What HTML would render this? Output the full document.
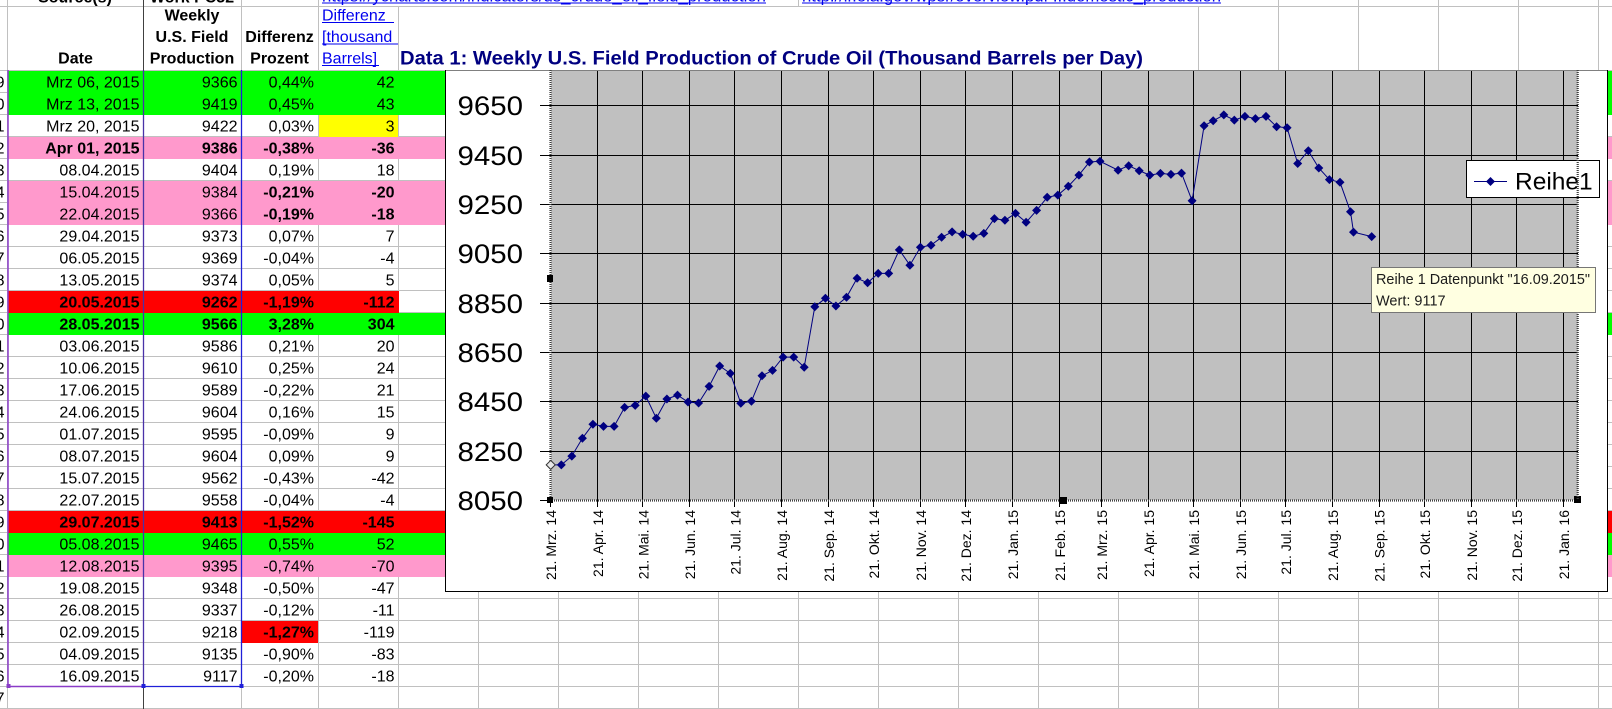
<!DOCTYPE html>
<html><head><meta charset="utf-8">
<style>
html,body{margin:0;padding:0;background:#fff;}
svg{display:block;font-family:"Liberation Sans",Arial,sans-serif;}
.b{font-weight:bold;}
</style></head><body>
<svg width="1612" height="709" viewBox="0 0 1612 709" xmlns="http://www.w3.org/2000/svg">
<defs>
<clipPath id="rh"><rect x="0" y="0" width="7" height="709"/></clipPath>
<path id="dm" d="M0,-4.5L4.5,0L0,4.5L-4.5,0Z"/>
</defs>
<rect x="0" y="0" width="1612" height="709" fill="#fff"/>

<!-- spreadsheet gridlines -->
<path fill="none" stroke="#c0c0c0" stroke-width="1" d="M0 6.5H1612M0 70.5H1612M0 92.5H1612M0 114.5H1612M0 136.5H1612M0 158.5H1612M0 180.5H1612M0 202.5H1612M0 224.5H1612M0 246.5H1612M0 268.5H1612M0 290.5H1612M0 312.5H1612M0 334.5H1612M0 356.5H1612M0 378.5H1612M0 400.5H1612M0 422.5H1612M0 444.5H1612M0 466.5H1612M0 488.5H1612M0 510.5H1612M0 532.5H1612M0 554.5H1612M0 576.5H1612M0 598.5H1612M0 620.5H1612M0 642.5H1612M0 664.5H1612M0 686.5H1612M0 708.5H1612"/>
<path fill="none" stroke="#c0c0c0" stroke-width="1" d="M7.5 70V709M241.5 70V709M318.5 70V709M398.5 70V709M478.5 70V709M558.5 70V709M638.5 70V709M718.5 70V709M798.5 70V709M878.5 70V709M958.5 70V709M1038.5 70V709M1118.5 70V709M1198.5 70V709M1278.5 70V709M1358.5 70V709M1438.5 70V709M1518.5 70V709M1598.5 70V709"/>
<path fill="none" stroke="#c0c0c0" stroke-width="1" d="M7.5 6V70M241.5 6V70M318.5 6V70M398.5 6V70M1198.5 6V70M1278.5 6V70M1358.5 6V70M1438.5 6V70M1518.5 6V70M1598.5 6V70"/>
<path fill="none" stroke="#c0c0c0" stroke-width="1" d="M7.5 0V6M241.5 0V6M318.5 0V6M798.5 0V6M1278.5 0V6M1358.5 0V6M1438.5 0V6M1518.5 0V6M1598.5 0V6"/>

<!-- fills -->
<rect x="8" y="71" width="1604" height="44" fill="#00ff00"/>
<rect x="319" y="115" width="79" height="22" fill="#ffff00"/>
<rect x="8" y="137" width="1604" height="22" fill="#ff99cc"/>
<rect x="8" y="181" width="1604" height="44" fill="#ff99cc"/>
<rect x="8" y="291" width="391" height="22" fill="#ff0000"/>
<rect x="8" y="313" width="1604" height="22" fill="#00ff00"/>
<rect x="8" y="511" width="1604" height="22" fill="#ff0000"/>
<rect x="8" y="533" width="1604" height="22" fill="#00ff00"/>
<rect x="8" y="555" width="1604" height="22" fill="#ff99cc"/>
<rect x="242" y="621" width="76" height="22" fill="#ff0000"/>

<!-- borders / range highlights -->
<path stroke="#404040" stroke-width="1" fill="none" d="M143.5 0V709"/>
<path stroke="#8a3cc8" stroke-width="1.5" fill="none" d="M8 70V686.5H143"/>
<path stroke="#4a32a8" stroke-width="1.3" fill="none" d="M143.5 70V686.5"/>
<path stroke="#2020d8" stroke-width="1.3" fill="none" d="M143 686.5H241.5V70"/>
<rect x="6.5" y="684" width="4" height="4" fill="#8a3cc8"/>
<rect x="141.5" y="684" width="4" height="4" fill="#2020d8"/>
<rect x="239.5" y="684" width="4" height="4" fill="#2020d8"/>

<!-- top row (cut off) -->
<text x="75" y="2.5" class="b" font-size="16" text-anchor="middle">Source(s)</text>
<text x="192" y="2.5" class="b" font-size="16" text-anchor="middle">Work PC32</text>
<text x="322" y="1.5" font-size="16" fill="#0000ee" textLength="444" lengthAdjust="spacingAndGlyphs">https://ycharts.com/indicators/us_crude_oil_field_production</text>
<rect x="322" y="2.5" width="444" height="1" fill="#0000ee"/>
<text x="802" y="1.5" font-size="16" fill="#0000ee" textLength="419" lengthAdjust="spacingAndGlyphs">http://ir.eia.gov/wpsr/overview.pdf   ...domestic_production</text>
<rect x="802" y="2.5" width="419" height="1" fill="#0000ee"/>

<!-- header row -->
<g font-size="16" class="b" text-anchor="middle">
<text x="75.5" y="63.3">Date</text>
<text x="192" y="20.7">Weekly</text>
<text x="192" y="42">U.S. Field</text>
<text x="192" y="63.3">Production</text>
<text x="279.5" y="42">Differenz</text>
<text x="279.5" y="63.3">Prozent</text>
</g>
<g font-size="16" fill="#0000ee">
<text x="322" y="20.7">Differenz </text>
<text x="322" y="42">[thousand </text>
<text x="322" y="63.3">Barrels]</text>
</g>
<rect x="322" y="22" width="72" height="1" fill="#0000ee"/>
<rect x="322" y="43.5" width="76" height="1" fill="#0000ee"/>
<rect x="322" y="65" width="57" height="1" fill="#0000ee"/>
<text x="400" y="64.3" class="b" font-size="19" fill="#000080" textLength="743" lengthAdjust="spacingAndGlyphs">Data 1: Weekly U.S. Field Production of Crude Oil  (Thousand Barrels per Day)</text>

<!-- row header digits -->
<g clip-path="url(#rh)" font-size="16" text-anchor="end" fill="#000">
<text x="4.5" y="87.3">9</text><text x="4.5" y="109.3">0</text><text x="4.5" y="131.3">1</text><text x="4.5" y="153.3">2</text><text x="4.5" y="175.3">3</text><text x="4.5" y="197.3">4</text><text x="4.5" y="219.3">5</text><text x="4.5" y="241.3">6</text><text x="4.5" y="263.3">7</text><text x="4.5" y="285.3">8</text><text x="4.5" y="307.3">9</text><text x="4.5" y="329.3">0</text><text x="4.5" y="351.3">1</text><text x="4.5" y="373.3">2</text><text x="4.5" y="395.3">3</text><text x="4.5" y="417.3">4</text><text x="4.5" y="439.3">5</text><text x="4.5" y="461.3">6</text><text x="4.5" y="483.3">7</text><text x="4.5" y="505.3">8</text><text x="4.5" y="527.3">9</text><text x="4.5" y="549.3">0</text><text x="4.5" y="571.3">1</text><text x="4.5" y="593.3">2</text><text x="4.5" y="615.3">3</text><text x="4.5" y="637.3">4</text><text x="4.5" y="659.3">5</text><text x="4.5" y="681.3">6</text><text x="4.5" y="703.3">7</text>
</g>

<!-- dates -->
<g font-size="16" text-anchor="end">
<text x="139.5" y="87.3">Mrz 06, 2015</text>
<text x="139.5" y="109.3">Mrz 13, 2015</text>
<text x="139.5" y="131.3">Mrz 20, 2015</text>
<text x="139.5" y="153.3" class="b">Apr 01, 2015</text>
<text x="139.5" y="175.3">08.04.2015</text>
<text x="139.5" y="197.3">15.04.2015</text>
<text x="139.5" y="219.3">22.04.2015</text>
<text x="139.5" y="241.3">29.04.2015</text>
<text x="139.5" y="263.3">06.05.2015</text>
<text x="139.5" y="285.3">13.05.2015</text>
<text x="139.5" y="307.3" class="b">20.05.2015</text>
<text x="139.5" y="329.3" class="b">28.05.2015</text>
<text x="139.5" y="351.3">03.06.2015</text>
<text x="139.5" y="373.3">10.06.2015</text>
<text x="139.5" y="395.3">17.06.2015</text>
<text x="139.5" y="417.3">24.06.2015</text>
<text x="139.5" y="439.3">01.07.2015</text>
<text x="139.5" y="461.3">08.07.2015</text>
<text x="139.5" y="483.3">15.07.2015</text>
<text x="139.5" y="505.3">22.07.2015</text>
<text x="139.5" y="527.3" class="b">29.07.2015</text>
<text x="139.5" y="549.3">05.08.2015</text>
<text x="139.5" y="571.3">12.08.2015</text>
<text x="139.5" y="593.3">19.08.2015</text>
<text x="139.5" y="615.3">26.08.2015</text>
<text x="139.5" y="637.3">02.09.2015</text>
<text x="139.5" y="659.3">04.09.2015</text>
<text x="139.5" y="681.3">16.09.2015</text>
</g>
<!-- production -->
<g font-size="16" text-anchor="end">
<text x="237.5" y="87.3">9366</text>
<text x="237.5" y="109.3">9419</text>
<text x="237.5" y="131.3">9422</text>
<text x="237.5" y="153.3" class="b">9386</text>
<text x="237.5" y="175.3">9404</text>
<text x="237.5" y="197.3">9384</text>
<text x="237.5" y="219.3">9366</text>
<text x="237.5" y="241.3">9373</text>
<text x="237.5" y="263.3">9369</text>
<text x="237.5" y="285.3">9374</text>
<text x="237.5" y="307.3" class="b">9262</text>
<text x="237.5" y="329.3" class="b">9566</text>
<text x="237.5" y="351.3">9586</text>
<text x="237.5" y="373.3">9610</text>
<text x="237.5" y="395.3">9589</text>
<text x="237.5" y="417.3">9604</text>
<text x="237.5" y="439.3">9595</text>
<text x="237.5" y="461.3">9604</text>
<text x="237.5" y="483.3">9562</text>
<text x="237.5" y="505.3">9558</text>
<text x="237.5" y="527.3" class="b">9413</text>
<text x="237.5" y="549.3">9465</text>
<text x="237.5" y="571.3">9395</text>
<text x="237.5" y="593.3">9348</text>
<text x="237.5" y="615.3">9337</text>
<text x="237.5" y="637.3">9218</text>
<text x="237.5" y="659.3">9135</text>
<text x="237.5" y="681.3">9117</text>
</g>
<!-- percent -->
<g font-size="16" text-anchor="end">
<text x="314" y="87.3">0,44%</text>
<text x="314" y="109.3">0,45%</text>
<text x="314" y="131.3">0,03%</text>
<text x="314" y="153.3" class="b">-0,38%</text>
<text x="314" y="175.3">0,19%</text>
<text x="314" y="197.3" class="b">-0,21%</text>
<text x="314" y="219.3" class="b">-0,19%</text>
<text x="314" y="241.3">0,07%</text>
<text x="314" y="263.3">-0,04%</text>
<text x="314" y="285.3">0,05%</text>
<text x="314" y="307.3" class="b">-1,19%</text>
<text x="314" y="329.3" class="b">3,28%</text>
<text x="314" y="351.3">0,21%</text>
<text x="314" y="373.3">0,25%</text>
<text x="314" y="395.3">-0,22%</text>
<text x="314" y="417.3">0,16%</text>
<text x="314" y="439.3">-0,09%</text>
<text x="314" y="461.3">0,09%</text>
<text x="314" y="483.3">-0,43%</text>
<text x="314" y="505.3">-0,04%</text>
<text x="314" y="527.3" class="b">-1,52%</text>
<text x="314" y="549.3">0,55%</text>
<text x="314" y="571.3">-0,74%</text>
<text x="314" y="593.3">-0,50%</text>
<text x="314" y="615.3">-0,12%</text>
<text x="314" y="637.3" class="b">-1,27%</text>
<text x="314" y="659.3">-0,90%</text>
<text x="314" y="681.3">-0,20%</text>
</g>
<!-- diff -->
<g font-size="16" text-anchor="end">
<text x="394.5" y="87.3">42</text>
<text x="394.5" y="109.3">43</text>
<text x="394.5" y="131.3">3</text>
<text x="394.5" y="153.3" class="b">-36</text>
<text x="394.5" y="175.3">18</text>
<text x="394.5" y="197.3" class="b">-20</text>
<text x="394.5" y="219.3" class="b">-18</text>
<text x="394.5" y="241.3">7</text>
<text x="394.5" y="263.3">-4</text>
<text x="394.5" y="285.3">5</text>
<text x="394.5" y="307.3" class="b">-112</text>
<text x="394.5" y="329.3" class="b">304</text>
<text x="394.5" y="351.3">20</text>
<text x="394.5" y="373.3">24</text>
<text x="394.5" y="395.3">21</text>
<text x="394.5" y="417.3">15</text>
<text x="394.5" y="439.3">9</text>
<text x="394.5" y="461.3">9</text>
<text x="394.5" y="483.3">-42</text>
<text x="394.5" y="505.3">-4</text>
<text x="394.5" y="527.3" class="b">-145</text>
<text x="394.5" y="549.3">52</text>
<text x="394.5" y="571.3">-70</text>
<text x="394.5" y="593.3">-47</text>
<text x="394.5" y="615.3">-11</text>
<text x="394.5" y="637.3">-119</text>
<text x="394.5" y="659.3">-83</text>
<text x="394.5" y="681.3">-18</text>
</g>

<!-- ============ CHART ============ -->
<rect x="445" y="70" width="1162" height="521" fill="#fff"/>
<path stroke="#808080" stroke-width="1" fill="none" d="M445 70.5H1607.5"/>
<path stroke="#000" stroke-width="1" fill="none" d="M445.5 70V591.5H1607.5V70"/>

<rect x="551" y="71" width="1026.7" height="429" fill="#c0c0c0"/>
<!-- horizontal gridlines -->
<path stroke="#000" stroke-width="1" fill="none" d="M551 105.5H1578M551 155.5H1578M551 204.5H1578M551 253.5H1578M551 303.5H1578M551 352.5H1578M551 401.5H1578M551 451.5H1578"/>
<!-- vertical gridlines -->
<path stroke="#000" stroke-width="1" fill="none" d="M597.5 71V500M642.5 71V500M689.5 71V500M734.5 71V500M781.5 71V500M828.5 71V500M873.5 71V500M920.5 71V500M965.5 71V500M1012.5 71V500M1059.5 71V500M1101.5 71V500M1148.5 71V500M1193.5 71V500M1240.5 71V500M1285.5 71V500M1332.5 71V500M1379.5 71V500M1424.5 71V500M1471.5 71V500M1516.5 71V500M1563.5 71V500"/>
<!-- y ticks -->
<path stroke="#000" stroke-width="1" fill="none" d="M540 105.5H551M540 155.5H551M540 204.5H551M540 253.5H551M540 303.5H551M540 352.5H551M540 401.5H551M540 451.5H551M540 500.5H551"/>
<!-- x ticks -->
<path stroke="#000" stroke-width="1" fill="none" d="M550.5 500V507M597.5 500V507M642.5 500V507M689.5 500V507M734.5 500V507M781.5 500V507M828.5 500V507M873.5 500V507M920.5 500V507M965.5 500V507M1012.5 500V507M1059.5 500V507M1101.5 500V507M1148.5 500V507M1193.5 500V507M1240.5 500V507M1285.5 500V507M1332.5 500V507M1379.5 500V507M1424.5 500V507M1471.5 500V507M1516.5 500V507M1563.5 500V507"/>
<!-- dotted axes (selected plot area) -->
<path stroke="#404040" stroke-width="2.2" stroke-dasharray="1 1" fill="none" d="M550.5 70V500.5H1577.7"/>

<!-- y labels -->
<g font-size="27" text-anchor="end" fill="#000">
<text x="523" y="115" textLength="65.5" lengthAdjust="spacingAndGlyphs">9650</text>
<text x="523" y="165" textLength="65.5" lengthAdjust="spacingAndGlyphs">9450</text>
<text x="523" y="214" textLength="65.5" lengthAdjust="spacingAndGlyphs">9250</text>
<text x="523" y="263" textLength="65.5" lengthAdjust="spacingAndGlyphs">9050</text>
<text x="523" y="313" textLength="65.5" lengthAdjust="spacingAndGlyphs">8850</text>
<text x="523" y="362" textLength="65.5" lengthAdjust="spacingAndGlyphs">8650</text>
<text x="523" y="411" textLength="65.5" lengthAdjust="spacingAndGlyphs">8450</text>
<text x="523" y="461" textLength="65.5" lengthAdjust="spacingAndGlyphs">8250</text>
<text x="523" y="510" textLength="65.5" lengthAdjust="spacingAndGlyphs">8050</text>
</g>

<!-- x labels -->
<g font-size="14" text-anchor="end" fill="#000">
<text transform="translate(556.2,510) rotate(-90)">21. Mrz. 14</text>
<text transform="translate(603,510) rotate(-90)">21. Apr. 14</text>
<text transform="translate(648.3,510) rotate(-90)">21. Mai. 14</text>
<text transform="translate(695,510) rotate(-90)">21. Jun. 14</text>
<text transform="translate(740.3,510) rotate(-90)">21. Jul. 14</text>
<text transform="translate(787.1,510) rotate(-90)">21. Aug. 14</text>
<text transform="translate(833.9,510) rotate(-90)">21. Sep. 14</text>
<text transform="translate(879.1,510) rotate(-90)">21. Okt. 14</text>
<text transform="translate(925.9,510) rotate(-90)">21. Nov. 14</text>
<text transform="translate(971.2,510) rotate(-90)">21. Dez. 14</text>
<text transform="translate(1018,510) rotate(-90)">21. Jan. 15</text>
<text transform="translate(1064.8,510) rotate(-90)">21. Feb. 15</text>
<text transform="translate(1107,510) rotate(-90)">21. Mrz. 15</text>
<text transform="translate(1153.8,510) rotate(-90)">21. Apr. 15</text>
<text transform="translate(1199.1,510) rotate(-90)">21. Mai. 15</text>
<text transform="translate(1245.9,510) rotate(-90)">21. Jun. 15</text>
<text transform="translate(1291.1,510) rotate(-90)">21. Jul. 15</text>
<text transform="translate(1337.9,510) rotate(-90)">21. Aug. 15</text>
<text transform="translate(1384.7,510) rotate(-90)">21. Sep. 15</text>
<text transform="translate(1430,510) rotate(-90)">21. Okt. 15</text>
<text transform="translate(1476.8,510) rotate(-90)">21. Nov. 15</text>
<text transform="translate(1522,510) rotate(-90)">21. Dez. 15</text>
<text transform="translate(1568.8,510) rotate(-90)">21. Jan. 16</text>
</g>

<!-- series -->
<polyline fill="none" stroke="#000080" stroke-width="1" points="550.7,464.9 561.3,464.9 571.8,456.1 582.4,438.3 592.9,424.2 603.5,426.4 614.1,426.4 624.6,407.4 635.2,405.4 645.8,396.1 656.3,418.3 666.9,399.0 677.5,395.1 688.0,402.0 698.6,403.0 709.1,386.4 719.7,366.0 730.3,373.4 740.8,403.2 751.4,401.3 762.0,375.8 772.5,370.4 783.1,357.1 793.7,357.1 804.2,367.2 814.8,306.7 825.4,298.3 835.9,306.0 846.5,297.3 857.1,278.3 867.6,282.8 878.2,273.4 888.7,273.4 899.3,249.9 909.9,265.2 920.4,247.2 931.0,245.2 941.6,237.3 952.1,231.9 962.7,234.4 973.2,236.3 983.8,233.4 994.4,218.6 1004.9,220.3 1015.5,213.4 1026.1,222.3 1036.6,210.4 1047.2,197.3 1057.8,195.1 1068.3,186.2 1078.9,175.1 1089.4,162.0 1100.0,161.3 1118.1,170.2 1128.7,165.7 1139.2,170.7 1149.8,175.1 1160.4,173.4 1170.9,174.4 1181.5,173.1 1192.1,200.8 1204.1,125.7 1213.2,120.8 1223.8,114.9 1234.3,120.1 1244.9,116.4 1255.4,118.6 1266.0,116.4 1276.6,126.7 1287.1,127.7 1297.7,163.5 1308.3,150.7 1318.8,168.0 1329.4,179.6 1340.0,182.3 1350.5,211.7 1353.5,232.1 1371.7,236.6"/>
<g fill="#000080">
<use href="#dm" x="561.3" y="464.9"/><use href="#dm" x="571.8" y="456.1"/><use href="#dm" x="582.4" y="438.3"/><use href="#dm" x="592.9" y="424.2"/><use href="#dm" x="603.5" y="426.4"/><use href="#dm" x="614.1" y="426.4"/><use href="#dm" x="624.6" y="407.4"/><use href="#dm" x="635.2" y="405.4"/><use href="#dm" x="645.8" y="396.1"/><use href="#dm" x="656.3" y="418.3"/><use href="#dm" x="666.9" y="399.0"/><use href="#dm" x="677.5" y="395.1"/><use href="#dm" x="688.0" y="402.0"/><use href="#dm" x="698.6" y="403.0"/><use href="#dm" x="709.1" y="386.4"/><use href="#dm" x="719.7" y="366.0"/><use href="#dm" x="730.3" y="373.4"/><use href="#dm" x="740.8" y="403.2"/><use href="#dm" x="751.4" y="401.3"/><use href="#dm" x="762.0" y="375.8"/><use href="#dm" x="772.5" y="370.4"/><use href="#dm" x="783.1" y="357.1"/><use href="#dm" x="793.7" y="357.1"/><use href="#dm" x="804.2" y="367.2"/><use href="#dm" x="814.8" y="306.7"/><use href="#dm" x="825.4" y="298.3"/><use href="#dm" x="835.9" y="306.0"/><use href="#dm" x="846.5" y="297.3"/><use href="#dm" x="857.1" y="278.3"/><use href="#dm" x="867.6" y="282.8"/><use href="#dm" x="878.2" y="273.4"/><use href="#dm" x="888.7" y="273.4"/><use href="#dm" x="899.3" y="249.9"/><use href="#dm" x="909.9" y="265.2"/><use href="#dm" x="920.4" y="247.2"/><use href="#dm" x="931.0" y="245.2"/><use href="#dm" x="941.6" y="237.3"/><use href="#dm" x="952.1" y="231.9"/><use href="#dm" x="962.7" y="234.4"/><use href="#dm" x="973.2" y="236.3"/><use href="#dm" x="983.8" y="233.4"/><use href="#dm" x="994.4" y="218.6"/><use href="#dm" x="1004.9" y="220.3"/><use href="#dm" x="1015.5" y="213.4"/><use href="#dm" x="1026.1" y="222.3"/><use href="#dm" x="1036.6" y="210.4"/><use href="#dm" x="1047.2" y="197.3"/><use href="#dm" x="1057.8" y="195.1"/><use href="#dm" x="1068.3" y="186.2"/><use href="#dm" x="1078.9" y="175.1"/><use href="#dm" x="1089.4" y="162.0"/><use href="#dm" x="1100.0" y="161.3"/><use href="#dm" x="1118.1" y="170.2"/><use href="#dm" x="1128.7" y="165.7"/><use href="#dm" x="1139.2" y="170.7"/><use href="#dm" x="1149.8" y="175.1"/><use href="#dm" x="1160.4" y="173.4"/><use href="#dm" x="1170.9" y="174.4"/><use href="#dm" x="1181.5" y="173.1"/><use href="#dm" x="1192.1" y="200.8"/><use href="#dm" x="1204.1" y="125.7"/><use href="#dm" x="1213.2" y="120.8"/><use href="#dm" x="1223.8" y="114.9"/><use href="#dm" x="1234.3" y="120.1"/><use href="#dm" x="1244.9" y="116.4"/><use href="#dm" x="1255.4" y="118.6"/><use href="#dm" x="1266.0" y="116.4"/><use href="#dm" x="1276.6" y="126.7"/><use href="#dm" x="1287.1" y="127.7"/><use href="#dm" x="1297.7" y="163.5"/><use href="#dm" x="1308.3" y="150.7"/><use href="#dm" x="1318.8" y="168.0"/><use href="#dm" x="1329.4" y="179.6"/><use href="#dm" x="1340.0" y="182.3"/><use href="#dm" x="1350.5" y="211.7"/><use href="#dm" x="1353.5" y="232.1"/><use href="#dm" x="1371.7" y="236.6"/>
</g>
<use href="#dm" x="550.7" y="464.9" fill="#e8e8e8" stroke="#333" stroke-width="1"/>

<!-- selection handles -->
<rect x="547" y="275" width="6" height="7" fill="#000"/>
<rect x="547" y="497" width="6" height="6" fill="#000"/>
<rect x="1060" y="497" width="7" height="7" fill="#000"/>
<rect x="1574" y="496" width="7" height="7" fill="#000"/>

<!-- legend -->
<rect x="1466.5" y="160.5" width="133" height="37" fill="#fff" stroke="#000" stroke-width="1"/>
<path stroke="#000080" stroke-width="1" fill="none" d="M1474 181.5H1507"/>
<use href="#dm" x="1490.5" y="181.5" fill="#000080"/>
<text x="1515" y="189.5" font-size="24.5" fill="#000">Reihe1</text>

<!-- right dotted plot border (over legend) -->
<path stroke="#404040" stroke-width="2.2" stroke-dasharray="1 1" fill="none" d="M1577.7 70V500"/>

<!-- tooltip -->
<rect x="1371.5" y="267.5" width="224" height="45" fill="#ffffe1" stroke="#767676" stroke-width="1"/>
<text x="1376" y="284" font-size="14.5" fill="#1a1a1a" textLength="214" lengthAdjust="spacingAndGlyphs">Reihe 1 Datenpunkt "16.09.2015"</text>
<text x="1376" y="305.5" font-size="14.5" fill="#1a1a1a">Wert: 9117</text>
</svg>
</body></html>
